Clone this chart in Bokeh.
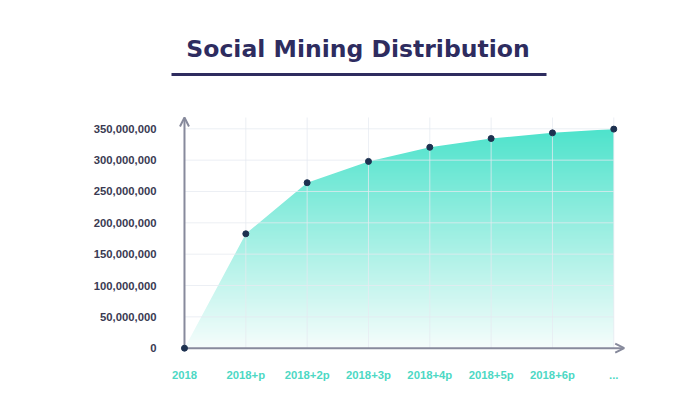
import numpy as np
from bokeh.plotting import figure
from bokeh.layouts import column
from bokeh.models import Range1d, FixedTicker, NumeralTickFormatter, Arrow, OpenHead
from bokeh.core.properties import value
from bokeh.embed import file_html
from bokeh.resources import INLINE

# ---- data ----
TITLE = "Social Mining Distribution"
categories = ["2018", "2018+p", "2018+2p", "2018+3p", "2018+4p", "2018+5p", "2018+6p", "..."]
supply = [0, 182.5e6, 264e6, 298e6, 320.5e6, 334.5e6, 343.5e6, 349.5e6]
y_ticks = [0, 50e6, 100e6, 150e6, 200e6, 250e6, 300e6, 350e6]

NAVY = "#2e2c5f"
AXIS = "#878a9c"
LABEL = "#3a3a52"
TEAL_TXT = "#4dd8c4"
DOT = "#1d3150"
GRID = "#e6eaf0"

idx = list(range(len(categories)))

BL, BR = 170, 52   # shared left/right borders

# ---- title strip ----
t = figure(width=684, height=95, x_range=Range1d(BL, 684 - BR), y_range=Range1d(95, 0),
           output_backend="svg", toolbar_location=None,
           min_border_left=BL, min_border_right=BR, min_border_top=0, min_border_bottom=0,
           x_axis_type=None, y_axis_type=None)
t.grid.visible = False
t.outline_line_color = None
t.text(x=[357.5], y=[48.5], text=[TITLE], text_font=value("DejaVu Sans"),
       text_font_style="bold", text_font_size="23.5px", text_color=NAVY,
       text_align="center", text_baseline="middle")
t.segment(x0=[171], y0=[74], x1=[546], y1=[74], line_width=3, line_color=NAVY)

# ---- main chart ----
y_start, y_end = -13.24e6, 376e6
p = figure(width=684, height=289, x_range=Range1d(-0.228, 7.305), y_range=Range1d(y_start, y_end),
           output_backend="svg", toolbar_location=None,
           min_border_left=BL, min_border_right=BR, min_border_top=17, min_border_bottom=28)
p.grid.visible = False
p.outline_line_color = None

# gradient fill (vertical), masked above the curve
rows = 256
frac = np.linspace(0, 1, rows)
bottom = np.array([246, 253, 252])
top = np.array([79, 227, 204])
grad = np.zeros((rows, 2), dtype=np.uint32)
view = grad.view(dtype=np.uint8).reshape((rows, 2, 4))
for c in range(3):
    view[:, :, c] = (bottom[c] + (top[c] - bottom[c]) * frac)[:, None].astype(np.uint8)
view[:, :, 3] = 255
p.image_rgba(image=[grad], x=0, y=0, dw=len(idx) - 1, dh=max(supply))
p.varea(x=idx, y1=supply, y2=[y_end] * len(idx), fill_color="white")

# grid lines
p.segment(x0=idx[1:], y0=[0] * (len(idx) - 1), x1=idx[1:], y1=[368e6] * (len(idx) - 1),
          line_color=GRID, line_alpha=0.75, line_width=1)
p.segment(x0=[0] * (len(y_ticks) - 1), y0=y_ticks[1:], x1=[idx[-1]] * (len(y_ticks) - 1), y1=y_ticks[1:],
          line_color=GRID, line_alpha=0.75, line_width=1)

# axes arrows
p.add_layout(Arrow(end=OpenHead(size=9, line_color=AXIS, line_width=2),
                   x_start=0, y_start=0, x_end=0, y_end=368e6, line_color=AXIS, line_width=2))
p.add_layout(Arrow(end=OpenHead(size=9, line_color=AXIS, line_width=2),
                   x_start=0, y_start=0, x_end=7.17, y_end=0, line_color=AXIS, line_width=2))

dots = p.scatter(idx, supply, size=6, color=DOT)
dots.level = "overlay"

# axis labels
p.yaxis.ticker = FixedTicker(ticks=y_ticks)
p.yaxis.formatter = NumeralTickFormatter(format="0,0")
p.xaxis.ticker = FixedTicker(ticks=idx)
p.xaxis.major_label_overrides = {i: lab for i, lab in zip(idx, categories)}
for ax in (p.xaxis, p.yaxis):
    ax.axis_line_color = None
    ax.major_tick_line_color = None
    ax.minor_tick_line_color = None
    ax.major_tick_in = 0
    ax.major_tick_out = 0
    ax.minor_tick_in = 0
    ax.minor_tick_out = 0
    ax.major_label_text_font = "Liberation Sans"
    ax.major_label_text_font_style = "bold"
    ax.major_label_text_font_size = "11.3px"
p.yaxis.major_label_text_color = LABEL
p.yaxis.major_label_standoff = 14
p.xaxis.major_label_text_color = TEAL_TXT
p.xaxis.major_label_standoff = 12

layout = column(t, p)
open("out.html", "w").write(file_html(layout, INLINE))
